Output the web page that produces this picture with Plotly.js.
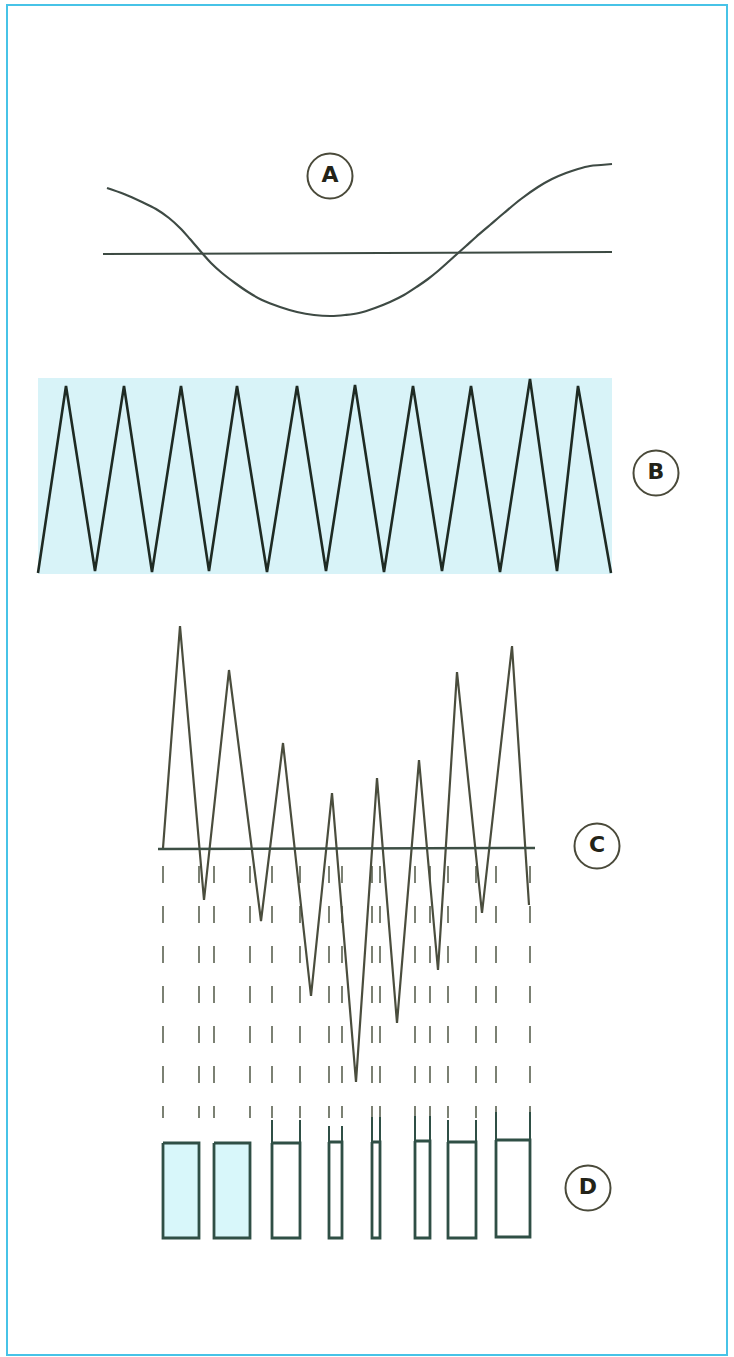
<!DOCTYPE html>
<html>
<head>
<meta charset="utf-8">
<script src="https://cdn.plot.ly/plotly-3.0.1.min.js"></script>
<style>html,body{margin:0;padding:0;background:#fff;}#chart{width:734px;height:1357px;}</style>
</head>
<body>
<div id="chart"></div>
<script>
// ---- Panel A: modulating signal and reference line ----
const aCurveX = [107, 124, 142, 156, 169, 180, 190, 202, 211, 222, 235, 248, 262, 280, 297, 314, 331, 345, 359, 375, 390, 404, 418, 428, 438, 447, 457, 466, 476, 490, 504, 521, 538, 552, 566, 578, 590, 601, 612];
const aCurveY = [188, 194, 202, 209, 218, 228, 239, 253, 263, 273, 283, 292, 300, 307, 312, 315, 316, 315, 313, 308, 302, 295, 286, 279, 271, 263, 254, 246, 237, 225, 213, 199, 187, 179, 173, 169, 166, 165, 164];
const aBaseX = [103, 612];
const aBaseY = [254, 252];

// ---- Panel B: triangular carrier ----
const bBandX = [38, 612, 612, 38];
const bBandY = [378, 378, 574, 574];
const bWaveX = [38, 66, 95, 124, 152, 181, 209, 237, 267, 297, 326, 355, 384, 413, 442, 471, 500, 530, 557, 578, 611];
const bWaveY = [573, 386, 571, 386, 572, 386, 571, 386, 572, 386, 571, 385, 572, 386, 571, 386, 572, 379, 571, 386, 573];

// ---- Panel C: sum signal and its reference line ----
const cWaveX = [163, 180, 204, 229, 261, 283, 311, 332, 356, 377, 397, 419, 438, 457, 482, 512, 529];
const cWaveY = [848, 626, 900, 670, 921, 743, 996, 793, 1082, 778, 1023, 760, 970, 672, 913, 646, 905];
const cBaseX = [158, 535];
const cBaseY = [849, 848];

// ---- Panel D: resulting pulses ----
const pulseLeft   = [163, 214, 272, 329, 372, 415, 448, 496];
const pulseRight  = [199, 250, 300, 342, 380, 430, 476, 530];
const pulseTop    = [1143, 1143, 1143, 1142, 1142, 1141, 1142, 1140];
const pulseBottom = [1238, 1238, 1238, 1238, 1238, 1238, 1238, 1237];
const pulseFilled = [true, true, false, false, false, false, false, false];
const stubTop     = [null, null, 1120, 1126, 1117, 1116, 1120, 1112];
const dashStart = 866;
const dashEnd = 1118;

// ---- Labels ----
const labelText = ['A', 'B', 'C', 'D'];
const labelX = [330, 656, 597, 588];
const labelY = [176, 473, 846, 1188];

const traces = [];

// Panel B band
traces.push({x: bBandX, y: bBandY, mode: 'lines', fill: 'toself', fillcolor: '#d8f3f8',
  line: {width: 0, color: 'rgba(0,0,0,0)'}, hoverinfo: 'skip'});

// Panel A
traces.push({x: aBaseX, y: aBaseY, mode: 'lines', line: {color: '#3c4a42', width: 2}, hoverinfo: 'skip'});
traces.push({x: aCurveX, y: aCurveY, mode: 'lines', line: {color: '#3e4a44', width: 2.2, shape: 'spline', smoothing: 1}, hoverinfo: 'skip'});

// Panel B wave
traces.push({x: bWaveX, y: bWaveY, mode: 'lines', line: {color: '#1e2a23', width: 2.6}, hoverinfo: 'skip'});

// Panel C dashed projection lines
const edgeX = [];
const edgeY = [];
pulseLeft.forEach((l, i) => {
  [l, pulseRight[i]].forEach(xv => { edgeX.push(xv, xv, null); edgeY.push(dashStart, dashEnd, null); });
});
traces.push({x: edgeX, y: edgeY, mode: 'lines', line: {color: '#6e7465', width: 1.8, dash: '17px,23px'}, hoverinfo: 'skip', connectgaps: false});

// Panel C wave and base line
traces.push({x: cWaveX, y: cWaveY, mode: 'lines', line: {color: '#4a4d3d', width: 2.2}, hoverinfo: 'skip'});
traces.push({x: cBaseX, y: cBaseY, mode: 'lines', line: {color: '#3d4f45', width: 2.5}, hoverinfo: 'skip'});

// Panel D pulses
pulseLeft.forEach((l, i) => {
  const r = pulseRight[i], t = pulseTop[i], b = pulseBottom[i];
  traces.push({x: [l, r, r, l, l], y: [t, t, b, b, t], mode: 'lines',
    fill: pulseFilled[i] ? 'toself' : 'none', fillcolor: '#d8f7fa',
    line: {color: '#2f4f45', width: 2.8}, hoverinfo: 'skip'});
  if (stubTop[i] !== null) {
    traces.push({x: [l, l, null, r, r], y: [stubTop[i], t, null, stubTop[i], t], mode: 'lines',
      line: {color: '#2f4f45', width: 2}, hoverinfo: 'skip'});
  }
});

// Labels
traces.push({x: labelX, y: labelY, mode: 'markers+text', text: labelText, textposition: 'middle center',
  textfont: {family: 'DejaVu Sans, Liberation Sans, sans-serif', size: 22, color: '#232318', weight: 'bold'},
  marker: {symbol: 'circle-open', size: 45, color: '#4a4a3a', line: {width: 2}}, hoverinfo: 'skip'});

const layout = {
  width: 734, height: 1357,
  margin: {l: 0, r: 0, t: 0, b: 0},
  paper_bgcolor: '#ffffff', plot_bgcolor: '#ffffff',
  showlegend: false,
  xaxis: {range: [0, 734], visible: false, showgrid: false, zeroline: false, fixedrange: true},
  yaxis: {range: [1357, 0], visible: false, showgrid: false, zeroline: false, fixedrange: true},
  shapes: [
    {type: 'rect', xref: 'x', yref: 'y', x0: 7, x1: 727, y0: 5, y1: 1355,
     line: {color: '#47c3e7', width: 2}, fillcolor: 'rgba(0,0,0,0)', layer: 'below'}
  ]
};

Plotly.newPlot('chart', traces, layout, {displayModeBar: false, staticPlot: true});
</script>
</body>
</html>
